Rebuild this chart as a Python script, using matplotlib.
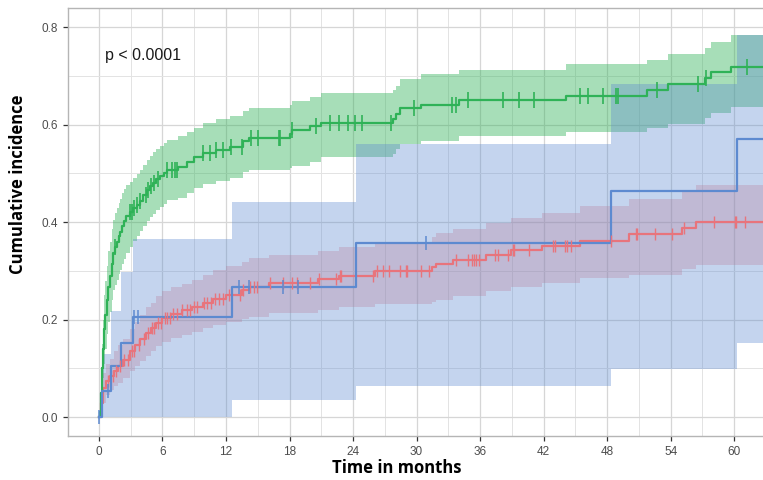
import numpy as np
import matplotlib
matplotlib.use("Agg")
import matplotlib.pyplot as plt

# ---- cumulative incidence estimates (time in months) ----
green_time = [0, 0.1, 0.2, 0.3, 0.4, 0.5, 0.6, 0.75, 0.9, 1.05, 1.2, 1.35, 1.5, 1.67, 1.85,
              2.0, 2.2, 2.4, 2.6, 2.9, 3.2, 3.6, 3.9, 4.2, 4.5, 4.8, 5.1, 5.4, 5.75, 6.1,
              6.4, 7.5, 8.3, 9.0, 9.8, 11.1, 12.4, 13.6, 14.2, 18.0, 18.2, 19.9, 21.0,
              27.8, 28.1, 28.4, 30.4, 34.0, 44.1, 51.8, 53.7, 57.2, 57.8, 59.7]
green_est = [0, 0.01, 0.05, 0.10, 0.14, 0.18, 0.21, 0.24, 0.268, 0.29, 0.315, 0.336, 0.35,
             0.36, 0.372, 0.38, 0.393, 0.402, 0.412, 0.42, 0.428, 0.436, 0.444, 0.455, 0.466,
             0.474, 0.481, 0.488, 0.495, 0.501, 0.507, 0.513, 0.524, 0.533, 0.542, 0.548,
             0.555, 0.566, 0.573, 0.58, 0.589, 0.597, 0.604, 0.611, 0.622, 0.635, 0.641,
             0.651, 0.659, 0.671, 0.683, 0.695, 0.707, 0.719]
green_lo = [0, 0.0, 0.02, 0.05, 0.08, 0.11, 0.14, 0.17, 0.195, 0.216, 0.24, 0.26, 0.272,
            0.282, 0.294, 0.302, 0.314, 0.324, 0.336, 0.348, 0.362, 0.372, 0.381, 0.392,
            0.403, 0.41, 0.417, 0.424, 0.432, 0.438, 0.445, 0.45, 0.46, 0.47, 0.478, 0.484,
            0.491, 0.502, 0.507, 0.511, 0.516, 0.524, 0.533, 0.54, 0.55, 0.561, 0.567,
            0.577, 0.584, 0.593, 0.602, 0.613, 0.624, 0.636]
green_hi = [0, 0.03, 0.09, 0.15, 0.2, 0.25, 0.28, 0.31, 0.34, 0.36, 0.385, 0.405, 0.418,
            0.428, 0.44, 0.448, 0.459, 0.468, 0.476, 0.483, 0.49, 0.498, 0.507, 0.518,
            0.528, 0.536, 0.543, 0.55, 0.556, 0.562, 0.569, 0.576, 0.585, 0.593, 0.603,
            0.611, 0.618, 0.628, 0.634, 0.64, 0.648, 0.657, 0.665, 0.671, 0.68, 0.693,
            0.704, 0.711, 0.724, 0.733, 0.745, 0.757, 0.77, 0.784]
green_censor = [1.5, 2.9, 3.1, 3.3, 3.6, 3.9, 4.4, 4.6, 4.9, 5.2, 5.6, 6.4, 6.9, 7.2, 7.4,
                9.8, 10.5, 11.1, 11.7, 12.5, 13.5, 14.4, 15.0, 17.0, 17.1, 18.2, 20.5,
                21.8, 22.7, 23.5, 24.2, 24.8, 27.6, 29.8, 33.3, 33.7, 34.9, 38.2, 39.7,
                41.1, 45.4, 46.2, 47.6, 48.8, 49.0, 52.7, 56.6, 57.3, 61.2]

red_time = [0, 0.2, 0.4, 0.7, 1.0, 1.4, 1.8, 2.3, 2.9, 3.4, 3.9, 4.4, 4.9, 5.4, 6.0, 6.8,
            7.8, 8.8, 9.8, 10.8, 12.0, 13.5, 14.2, 16.1, 20.7, 22.7, 26.1, 31.5, 31.8,
            33.4, 36.6, 38.9, 41.8, 45.4, 50.1, 55.1, 56.4]
red_est = [0, 0.03, 0.06, 0.075, 0.085, 0.095, 0.105, 0.117, 0.135, 0.148, 0.16, 0.172,
           0.182, 0.193, 0.204, 0.212, 0.219, 0.226, 0.234, 0.243, 0.251, 0.26, 0.266,
           0.276, 0.284, 0.29, 0.299, 0.307, 0.314, 0.323, 0.332, 0.342, 0.352, 0.362,
           0.375, 0.388, 0.401]
red_lo = [0, 0.01, 0.03, 0.045, 0.055, 0.063, 0.07, 0.08, 0.095, 0.105, 0.115, 0.125,
          0.135, 0.145, 0.155, 0.162, 0.168, 0.175, 0.182, 0.189, 0.195, 0.201, 0.206,
          0.213, 0.22, 0.226, 0.232, 0.237, 0.241, 0.249, 0.258, 0.268, 0.276, 0.285,
          0.292, 0.304, 0.312]
red_hi = [0, 0.05, 0.09, 0.11, 0.12, 0.135, 0.148, 0.16, 0.18, 0.195, 0.21, 0.225, 0.235,
          0.248, 0.258, 0.266, 0.274, 0.282, 0.292, 0.302, 0.31, 0.318, 0.326, 0.333,
          0.341, 0.35, 0.36, 0.369, 0.377, 0.386, 0.398, 0.408, 0.418, 0.433, 0.447,
          0.463, 0.477]
red_censor = [0.9, 1.3, 1.6, 2.0, 2.4, 2.7, 3.1, 3.3, 3.8, 4.3, 4.6, 5.0, 5.2, 5.6, 5.9,
              6.2, 6.4, 6.7, 7.0, 7.4, 7.8, 8.3, 8.6, 9.0, 9.3, 9.9, 10.2, 10.6, 11.0,
              11.3, 11.7, 12.3, 13.3, 13.6, 14.3, 14.6, 14.9, 16.2, 17.4, 18.2, 18.7,
              19.9, 20.8, 22.4, 22.8, 22.9, 25.9, 26.3, 26.8, 27.4, 28.4, 29.0, 29.1,
              30.4, 31.2, 33.7, 34.9, 35.2, 35.4, 35.6, 35.9, 37.4, 37.7, 38.6, 39.1,
              39.2, 40.6, 42.9, 43.1, 44.0, 44.2, 44.6, 48.4, 50.7, 50.8, 52.5, 54.1,
              55.3, 58.1, 60.1, 60.2, 61.0]

blue_time = [0, 0.3, 1.1, 2.1, 3.2, 12.6, 24.3, 48.4, 60.3]
blue_est = [0, 0.053, 0.104, 0.152, 0.206, 0.266, 0.357, 0.464, 0.571]
blue_lo = [0, 0.0, 0.0, 0.0, 0.0, 0.035, 0.063, 0.098, 0.153]
blue_hi = [0, 0.13, 0.218, 0.297, 0.365, 0.442, 0.561, 0.683, 0.784]
blue_censor = [0.0, 0.9, 3.3, 3.7, 13.2, 14.2, 17.4, 18.8, 30.9]

x_ticks = [0, 6, 12, 18, 24, 30, 36, 42, 48, 54, 60]
y_ticks = [0.0, 0.2, 0.4, 0.6, 0.8]
p_label = "p < 0.0001"

T_END = 63.5

GREEN = "#2FB257"
RED = "#E8747C"
BLUE = "#5D8AD0"

fig = plt.figure(figsize=(7.63, 4.80), dpi=100)
ax = fig.add_axes([68 / 763, 44 / 480, 698 / 763, 428 / 480])
ax.set_xlim(-2.92, 62.92)
ax.set_ylim(-0.0385, 0.839)


def extend(t, *vals):
    t = list(t) + [T_END]
    return [t] + [list(v) + [v[-1]] for v in vals]


def step_at(t, est, x):
    idx = np.searchsorted(np.asarray(t), np.asarray(x), side="right") - 1
    return np.asarray(est)[np.clip(idx, 0, None)]


# (time, estimate, lower, upper, censor times, colour, band alpha, tick size, tick width)
series = [
    (red_time, red_est, red_lo, red_hi, red_censor, RED, 0.30, 9, 1.0),
    (green_time, green_est, green_lo, green_hi, green_censor, GREEN, 0.42, 11, 1.2),
    (blue_time, blue_est, blue_lo, blue_hi, blue_censor, BLUE, 0.36, 10, 1.1),
]

# confidence bands
for t, est, lo, hi, cens, col, a, ms, mew in series:
    tt, lo2, hi2 = extend(t, lo, hi)
    ax.fill_between(tt, lo2, hi2, step="post", color=col, alpha=a, lw=0, zorder=2)

# estimate lines and censoring marks
for t, est, lo, hi, cens, col, a, ms, mew in series:
    tt, e2 = extend(t, est)
    ax.step(tt, e2, where="post", color=col, lw=1.6, zorder=3)
    ax.plot(cens, step_at(t, est, cens), ls="none", marker="|", ms=ms,
            mew=mew, color=col, zorder=4)

# grid / frame
ax.set_xticks(x_ticks)
ax.set_xticklabels([str(v) for v in x_ticks])
ax.set_yticks(y_ticks)
ax.set_yticklabels([f"{v:.1f}" for v in y_ticks])
ax.set_xticks([v + 3 for v in x_ticks], minor=True)
ax.set_yticks([0.1, 0.3, 0.5, 0.7], minor=True)
ax.grid(which="major", color="#D6D6D6", lw=0.9, zorder=0)
ax.grid(which="minor", color="#E3E3E3", lw=0.7, zorder=0)
ax.set_axisbelow(True)
for s in ax.spines.values():
    s.set_color("#B5B5B5")
    s.set_linewidth(1.0)
ax.tick_params(which="major", length=3.5, width=0.9, color="#333333",
               labelsize=8.5, labelcolor="#4D4D4D")
ax.tick_params(which="minor", length=0)
for lab in ax.get_xticklabels() + ax.get_yticklabels():
    lab.set_family("Liberation Sans")

ax.text(0.57, 0.733, p_label, fontsize=11.5, family="Liberation Sans",
        color="#1A1A1A", va="baseline", ha="left", zorder=5)

fig.text(397 / 763, 1 - 468 / 480, "Time in months", ha="center", va="center",
         fontsize=12, fontweight="bold", family="Open Sans")
fig.text(18 / 763, 1 - 184 / 480, "Cumulative incidence", ha="center", va="center",
         rotation=90, fontsize=12, fontweight="bold", family="Open Sans")

fig.savefig("out.png", dpi=100)
